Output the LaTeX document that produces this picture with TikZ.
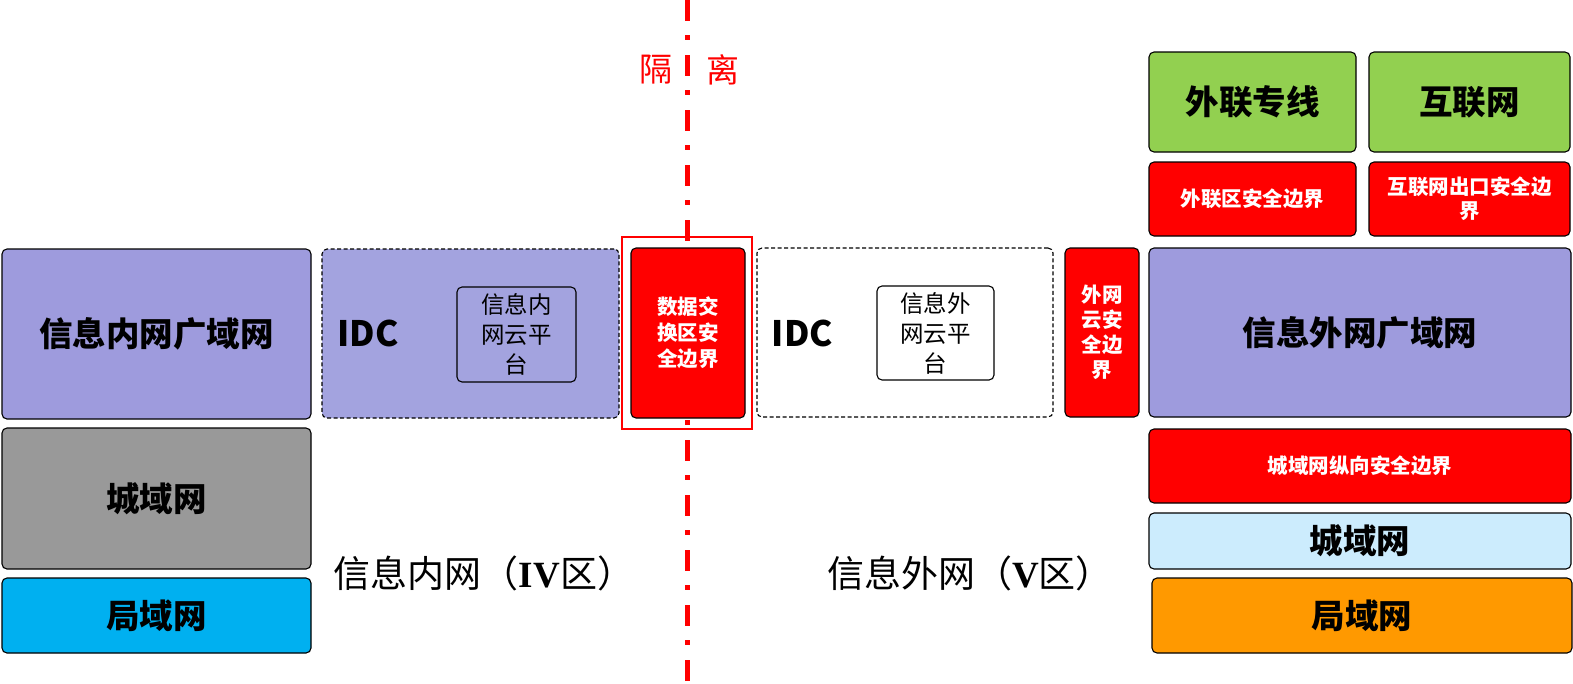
\documentclass[tikz,border=0pt]{standalone}
\usepackage{fontspec}
\setmainfont{Noto Sans CJK SC}
\newfontfamily\romfont{Liberation Serif}
\definecolor{purp}{HTML}{9E9BDD}
\definecolor{purpl}{HTML}{A3A3DF}
\definecolor{grayb}{HTML}{999999}
\definecolor{cyanb}{HTML}{00B0F0}
\definecolor{greenb}{HTML}{92D050}
\definecolor{redb}{HTML}{FF0000}
\definecolor{lblue}{HTML}{CCECFD}
\definecolor{orangeb}{HTML}{FF9900}
\tikzset{
  box/.style={draw=black, line width=1.1pt, rounded corners=5pt, inner sep=0pt, align=center},
  dbox/.style={box, dash pattern=on 4pt off 2.5pt},
  bigt/.style={font=\fontsize{33.5}{38}\selectfont\bfseries},
  redt/.style={font=\fontsize{20.5}{26}\selectfont\bfseries, text=white, fill=redb},
  cloudt/.style={font=\fontsize{23.5}{30}\selectfont},
  idct/.style={font=\fontsize{35}{40}\selectfont\bfseries, inner sep=0pt},
  zonet/.style={font=\fontsize{37}{42}\selectfont, inner sep=0pt},
  isot/.style={font=\fontsize{33}{38}\selectfont, text=redb, inner sep=0pt},
}
\begin{document}
\begin{tikzpicture}[x=1pt,y=-1pt]
\useasboundingbox (0,0) rectangle (1573,683);
% isolation line (behind the boxes)
\coordinate (ltop) at (687.5,0);
\coordinate (lbot) at (687.5,683);
\draw[redb, line width=4.5pt, dash pattern=on 21pt off 14pt on 5pt off 15pt] (ltop) -- (lbot);
\node[isot] (ge) at (656,70) {隔};
\node[isot] (li) at (723,70) {离};
% left column
\node[box, fill=purp, bigt, minimum width=309pt, minimum height=170pt] (nwan) at (156.5,334) {信息内网广域网};
\node[box, fill=grayb, bigt, minimum width=309pt, minimum height=141pt] (nman) at (156.5,498.5) {城域网};
\node[box, fill=cyanb, bigt, minimum width=309pt, minimum height=75pt] (nlan) at (156.5,615.5) {局域网};
% inner IDC
\node[dbox, fill=purpl, minimum width=297pt, minimum height=169pt] (idc1) at (470.5,333.5) {};
\node[idct] (idc1t) at (368,333) {IDC};
\node[box, fill=purpl, cloudt, minimum width=119pt, minimum height=95pt] (cloud1) at (516.5,334.5) {信息内\\网云平\\台};
% exchange boundary
\node[draw=redb, line width=2pt, minimum width=130pt, minimum height=192pt, inner sep=0pt] (frame) at (687,333) {};
\node[box, redt, minimum width=114pt, minimum height=170pt] (exch) at (688,333) {数据交\\换区安\\全边界};
% outer IDC
\node[dbox, fill=white, minimum width=296pt, minimum height=169pt] (idc2) at (905,332.5) {};
\node[idct] (idc2t) at (802.5,333) {IDC};
\node[box, fill=white, cloudt, minimum width=117pt, minimum height=94pt] (cloud2) at (935.5,333) {信息外\\网云平\\台};
\node[box, redt, minimum width=74pt, minimum height=169pt, font=\fontsize{20.5}{25}\selectfont\bfseries] (wcs) at (1102,332.5) {外网\\云安\\全边\\界};
% right column
\node[box, fill=greenb, bigt, minimum width=207pt, minimum height=100pt] (wzx) at (1252.5,102) {外联专线};
\node[box, fill=greenb, bigt, minimum width=201pt, minimum height=100pt] (inet) at (1469.5,102) {互联网};
\node[box, redt, minimum width=207pt, minimum height=74pt] (wzxsec) at (1252.5,199) {外联区安全边界};
\node[box, redt, minimum width=201pt, minimum height=74pt, font=\fontsize{20.5}{24}\selectfont\bfseries] (inetsec) at (1469.5,199) {互联网出口安全边\\界};
\node[box, fill=purp, bigt, minimum width=422pt, minimum height=169pt] (wwan) at (1360,332.5) {信息外网广域网};
\node[box, redt, minimum width=422pt, minimum height=74pt] (wmansec) at (1360,466) {城域网纵向安全边界};
\node[box, fill=lblue, bigt, minimum width=422pt, minimum height=56pt] (wman) at (1360,541) {城域网};
\node[box, fill=orangeb, bigt, minimum width=420pt, minimum height=75pt] (wlan) at (1362,615.5) {局域网};
% zone labels
\node[zonet] (zin) at (484,573) {信息内网（{\romfont\bfseries IV}区）};
\node[zonet] (zout) at (970,573) {信息外网（{\romfont\bfseries V}区）};
\end{tikzpicture}
\end{document}
